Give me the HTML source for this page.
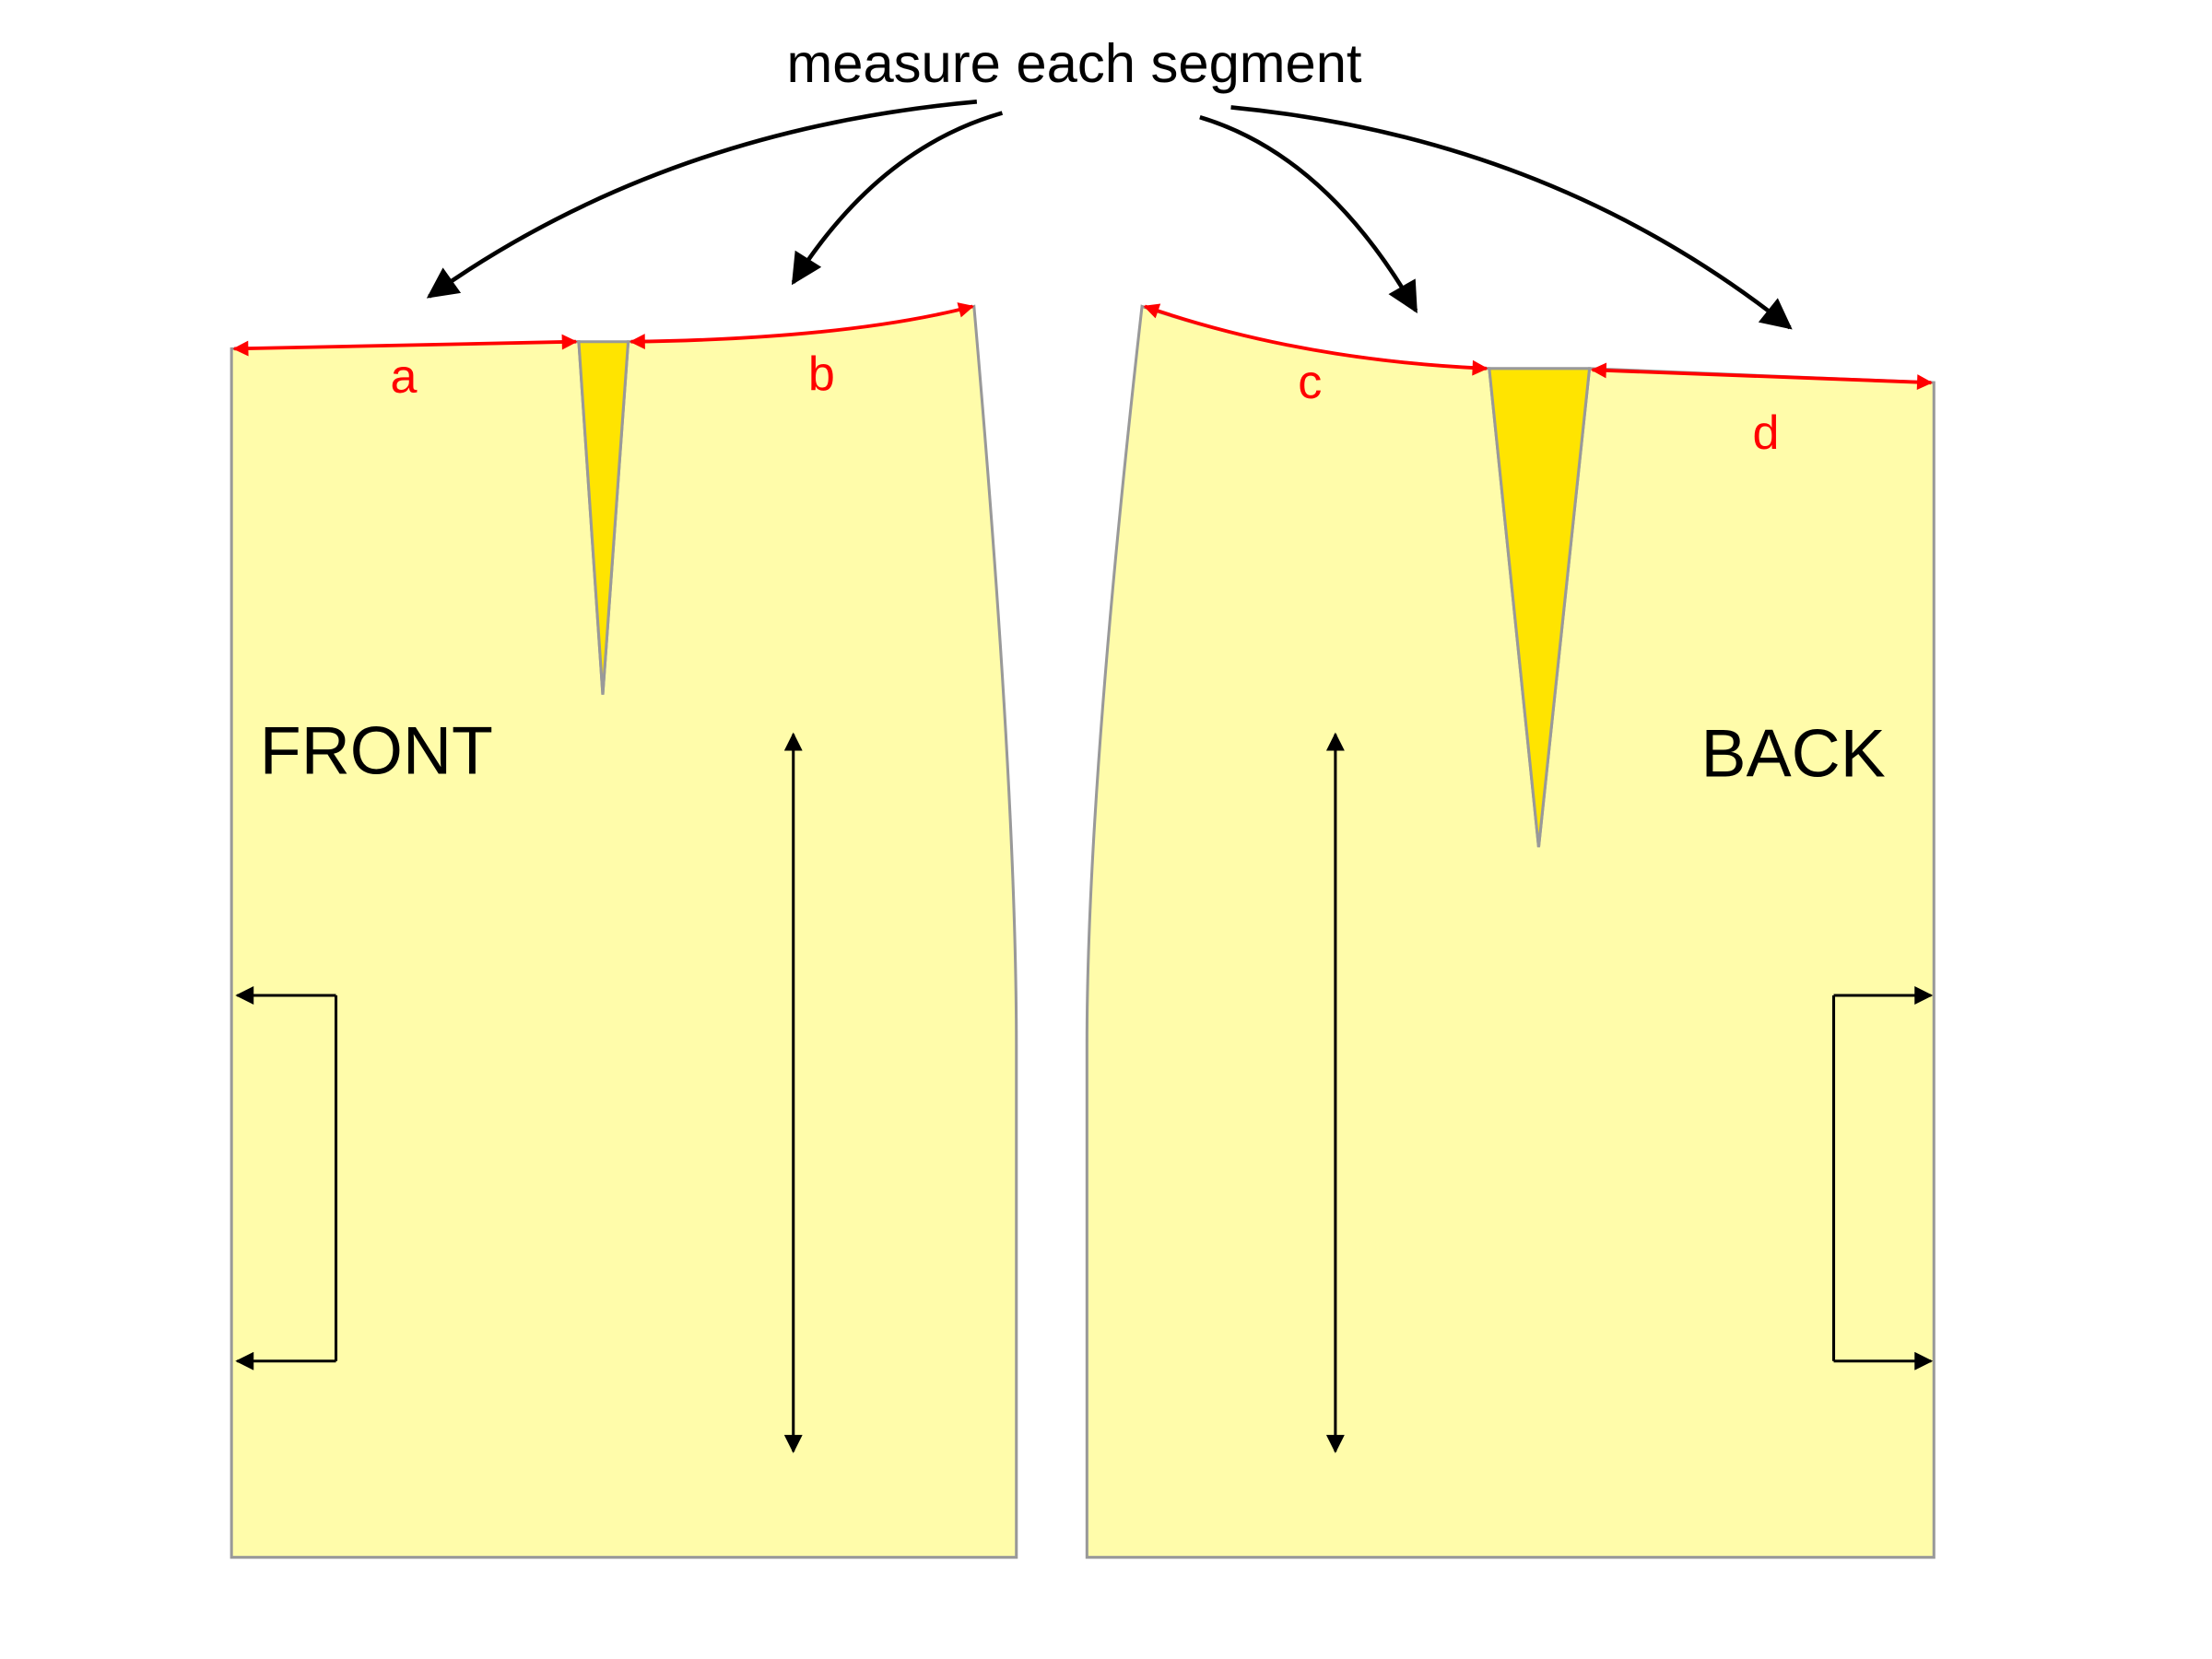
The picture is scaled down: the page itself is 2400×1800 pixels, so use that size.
<!DOCTYPE html>
<html><head><meta charset="utf-8"><style>
html,body{margin:0;padding:0;background:#fff;}
svg{display:block;}
</style></head><body>
<svg width="2400" height="1800" viewBox="0 0 1567 1175" preserveAspectRatio="none" xmlns="http://www.w3.org/2000/svg">
<defs>
<marker id="rh" viewBox="0 0 10 10" refX="9" refY="5" markerWidth="14" markerHeight="11" markerUnits="userSpaceOnUse" orient="auto-start-reverse"><path d="M0,0 L10,5 L0,10 z" fill="#f00"/></marker>
<marker id="bh" viewBox="0 0 10 10" refX="9" refY="5" markerWidth="16" markerHeight="13" markerUnits="userSpaceOnUse" orient="auto-start-reverse"><path d="M0,0 L10,5 L0,10 z" fill="#000"/></marker>
<marker id="big" viewBox="0 0 10 10" refX="9" refY="5" markerWidth="26" markerHeight="22" markerUnits="userSpaceOnUse" orient="auto"><path d="M0,0 L10,5 L0,10 z" fill="#000"/></marker>
</defs>
<rect width="1567" height="1175" fill="#fff"/>
<path d="M164,247 L410,242 L427,492 L445,242 Q600,240 690,217 Q720,560 720,740 L720,1103 L164,1103 Z" fill="#fffcaa" stroke="#999" stroke-width="2"/>
<path d="M410,242 L445,242 L427,492 Z" fill="#ffe400" stroke="#999" stroke-width="2"/>
<path d="M809,217 Q920,255 1055,261 L1090,600 L1126,261 L1370,271 L1370,1103 L770,1103 L770,740 Q770,560 809,217 Z" fill="#fffcaa" stroke="#999" stroke-width="2"/>
<path d="M1055,261 L1126,261 L1090,600 Z" fill="#ffe400" stroke="#999" stroke-width="2"/>
<g stroke="#f00" stroke-width="2.5" fill="none">
<path d="M166,247 L408,242" marker-start="url(#rh)" marker-end="url(#rh)"/>
<path d="M447,242 Q600,240 689,217" marker-start="url(#rh)" marker-end="url(#rh)"/>
<path d="M811,217 Q920,255 1053,261" marker-start="url(#rh)" marker-end="url(#rh)"/>
<path d="M1128,262 L1368,271" marker-start="url(#rh)" marker-end="url(#rh)"/>
</g>
<g fill="#f00" font-family="Liberation Sans, sans-serif" font-size="34" text-anchor="middle">
<text x="286" y="278">a</text><text x="582" y="276">b</text><text x="928" y="282">c</text><text x="1251" y="318">d</text>
</g>
<g font-family="Liberation Sans, sans-serif" font-size="48" fill="#000">
<text x="184" y="548">FRONT</text><text x="1205" y="550">BACK</text>
</g>
<text x="761" y="58" font-family="Liberation Sans, sans-serif" font-size="39" text-anchor="middle">measure each segment</text>
<g stroke="#000" stroke-width="2" fill="none">
<path d="M562,520 L562,1028" marker-start="url(#bh)" marker-end="url(#bh)"/>
<path d="M946,520 L946,1028" marker-start="url(#bh)" marker-end="url(#bh)"/>
<path d="M238,705 L168,705" marker-end="url(#bh)"/>
<path d="M238,705 L238,964"/>
<path d="M238,964 L168,964" marker-end="url(#bh)"/>
<path d="M1299,705 L1368,705" marker-end="url(#bh)"/>
<path d="M1299,705 L1299,964"/>
<path d="M1299,964 L1368,964" marker-end="url(#bh)"/>
</g>
<g stroke="#000" stroke-width="3" fill="none">
<path d="M692,72 Q470,92 304,210" marker-end="url(#big)"/>
<path d="M710,80 Q622,105 562,200" marker-end="url(#big)"/>
<path d="M850,83 Q940,110 1003,220" marker-end="url(#big)"/>
<path d="M872,76 Q1100,98 1268,232" marker-end="url(#big)"/>
</g>
</svg>
</body></html>
